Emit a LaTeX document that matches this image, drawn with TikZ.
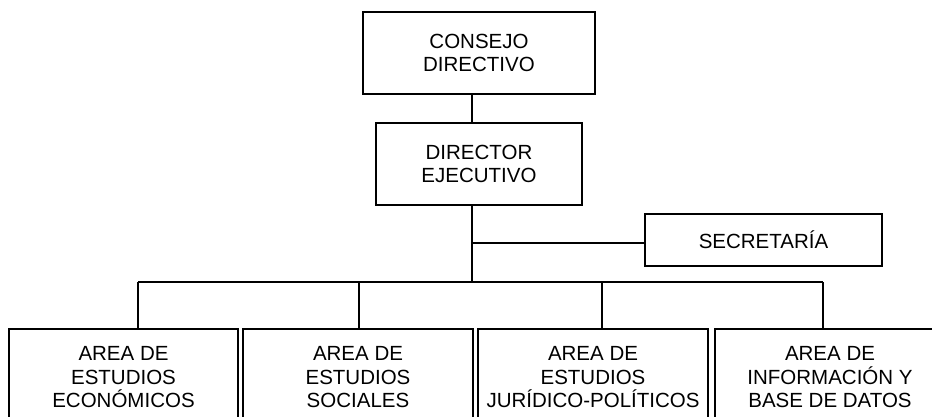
\documentclass[tikz,border=0pt]{standalone}
\usepackage{fontspec}
\setmainfont{Liberation Sans}
\begin{document}
\begin{tikzpicture}[x=1pt,y=-1pt,
  box/.style={draw=black, line width=1.8pt, inner sep=0pt, align=center,
    font=\fontsize{20.5}{23.5}\selectfont},
  conn/.style={draw=black, line width=1.8pt}]
\useasboundingbox (0,0) rectangle (932,417);
\fill[white] (0,0) rectangle (932,417);
\clip (0,0) rectangle (932,417);
\node[box, minimum width=232pt, minimum height=82pt] (consejo) at (479,53) {CONSEJO\\DIRECTIVO};
\node[box, minimum width=206pt, minimum height=82pt] (director) at (479,164) {DIRECTOR\\EJECUTIVO};
\node[box, minimum width=237pt, minimum height=52pt] (secretaria) at (763.5,240) {SECRETARÍA};
\node[box, minimum width=229pt, minimum height=97pt] (b1) at (123.5,377.5) {AREA DE\\ESTUDIOS\\ECONÓMICOS};
\node[box, minimum width=230pt, minimum height=97pt] (b2) at (358,377.5) {AREA DE\\ESTUDIOS\\SOCIALES};
\node[box, minimum width=230pt, minimum height=97pt] (b3) at (593,377.5) {AREA DE\\ESTUDIOS\\JURÍDICO-POLÍTICOS};
\node[box, minimum width=230pt, minimum height=97pt] (b4) at (830,377.5) {AREA DE\\INFORMACIÓN Y\\BASE DE DATOS};
\coordinate (trunk) at (472,282);
\coordinate (bus1) at (138,282);
\coordinate (bus2) at (359,282);
\coordinate (bus3) at (602,282);
\coordinate (bus4) at (823,282);
\draw[conn] (consejo.south -| trunk) -- (director.north -| trunk);
\draw[conn] (director.south -| trunk) -- (trunk);
\draw[conn] ([yshift=-3pt]secretaria.west) -- ([yshift=-3pt]secretaria.west -| trunk);
\draw[conn] (bus1) -- (bus4);
\draw[conn] (bus1) -- (bus1 |- b1.north);
\draw[conn] (bus2) -- (bus2 |- b2.north);
\draw[conn] (bus3) -- (bus3 |- b3.north);
\draw[conn] (bus4) -- (bus4 |- b4.north);
\end{tikzpicture}
\end{document}
